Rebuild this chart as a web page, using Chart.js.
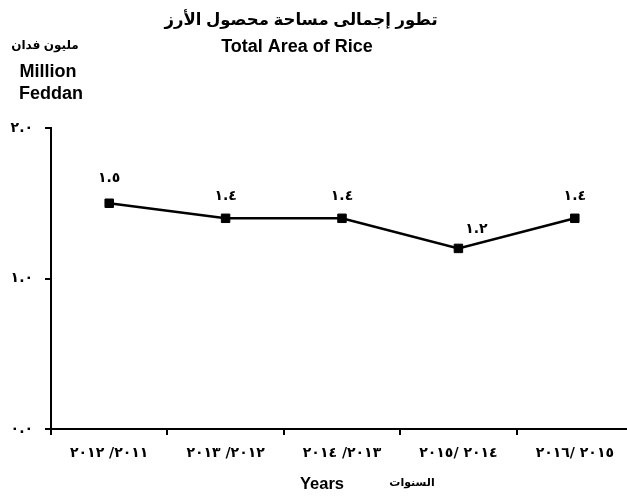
<!DOCTYPE html>
<html><head><meta charset="utf-8">
<script src="https://cdn.jsdelivr.net/npm/chart.js@4"></script>
<style>html,body{margin:0;padding:0;overflow:hidden;background:#fff}#wrap{width:640px;height:497px}</style>
</head><body><div id="wrap"><canvas id="c" width="640" height="497"></canvas></div>
<script>
// categories in logical (right-to-left) order, e.g. "2011/ 2012"
const categories = ['٢٠١١/ ٢٠١٢','٢٠١٢/ ٢٠١٣','٢٠١٣/ ٢٠١٤','٢٠١٤ /٢٠١٥','٢٠١٥ /٢٠١٦'];
const areaValues = [1.50, 1.40, 1.40, 1.20, 1.40];
const yTickValues = [0, 1, 2];
const titleAr = 'تطور إجمالى مساحة محصول الأرز';
const titleEn = 'Total Area of Rice';
const unitAr = 'مليون فدان';
const unitEn = ['Million', 'Feddan'];
const xTitleEn = 'Years';
const xTitleAr = 'السنوات';

const AR_DIGITS = '٠١٢٣٤٥٦٧٨٩';
function toArabic(v){ return v.toFixed(1).replace(/[0-9]/g, d => AR_DIGITS[+d]); }

const FONT = "'Liberation Sans', 'DejaVu Sans', sans-serif";
const DIGIT_FONT = "'DejaVu Sans', sans-serif";
Chart.defaults.font.family = FONT;
Chart.defaults.font.weight = 'bold';
Chart.defaults.color = '#000';

const dataLabelPlugin = {
  id: 'dataLabels',
  afterDatasetsDraw(chart){
    const ctx = chart.ctx;
    const meta = chart.getDatasetMeta(0);
    const dx = [0, 0, 0, 18, 0];
    const dy = [-25, -22, -22, -19, -22];
    ctx.save();
    ctx.font = 'bold 14px ' + DIGIT_FONT;
    ctx.fillStyle = '#000';
    ctx.textAlign = 'center';
    ctx.textBaseline = 'middle';
    meta.data.forEach((pt, i) => {
      ctx.fillText(toArabic(areaValues[i]), pt.x + dx[i], pt.y + dy[i]);
    });
    ctx.restore();
  }
};

const textPlugin = {
  id: 'texts',
  afterDraw(chart){
    const ctx = chart.ctx;
    ctx.save();
    ctx.fillStyle = '#000';
    ctx.textBaseline = 'middle';
    ctx.textAlign = 'center';
    ctx.font = 'bold 16.5px ' + FONT;
    ctx.fillText(titleAr, 301, 20);
    ctx.font = 'bold 18px ' + FONT;
    ctx.fillText(titleEn, 297, 47);
    ctx.font = 'bold 12px ' + FONT;
    ctx.fillText(unitAr, 45, 46);
    ctx.font = 'bold 18px ' + FONT;
    ctx.fillText(unitEn[0], 48, 72);
    ctx.fillText(unitEn[1], 51, 94);
    ctx.font = 'bold 16.5px ' + FONT;
    ctx.fillText(xTitleEn, 322, 484);
    ctx.font = 'bold 11px ' + FONT;
    ctx.fillText(xTitleAr, 412, 483);
    ctx.restore();
  }
};

new Chart(document.getElementById('c'), {
  type: 'line',
  data: {
    labels: categories,
    datasets: [{
      data: areaValues,
      borderColor: '#000',
      backgroundColor: '#000',
      borderWidth: 2.5,
      pointStyle: 'rect',
      pointRadius: 6,
      pointBorderWidth: 1,
      pointHoverRadius: 6,
      tension: 0,
      fill: false
    }]
  },
  options: {
    responsive: false,
    animation: false,
    events: [],
    layout: { padding: { top: 128, left: 0, right: 4, bottom: 0 } },
    plugins: { legend: { display: false }, tooltip: { enabled: false } },
    scales: {
      x: {
        offset: true,
        grid: { offset: true, drawOnChartArea: false, drawTicks: true, tickLength: 6, color: '#000', lineWidth: 2 },
        border: { display: true, color: '#000', width: 2 },
        ticks: { autoSkip: false, maxRotation: 0, minRotation: 0, padding: 10, font: { family: DIGIT_FONT, size: 14, weight: 'bold' }, color: '#000' },
        afterFit(s){ s.height = 68; }
      },
      y: {
        min: 0, max: 2,
        afterBuildTicks(s){ s.ticks = yTickValues.map(v => ({ value: v })); },
        grid: { drawOnChartArea: false, drawTicks: true, tickLength: 6, color: '#000', lineWidth: 2 },
        border: { display: true, color: '#000', width: 2 },
        ticks: { padding: 12, font: { family: DIGIT_FONT, size: 14, weight: 'bold' }, color: '#000', callback: v => toArabic(v) },
        afterFit(s){ s.width = 51; }
      }
    }
  },
  plugins: [dataLabelPlugin, textPlugin]
});
</script>
</body></html>
